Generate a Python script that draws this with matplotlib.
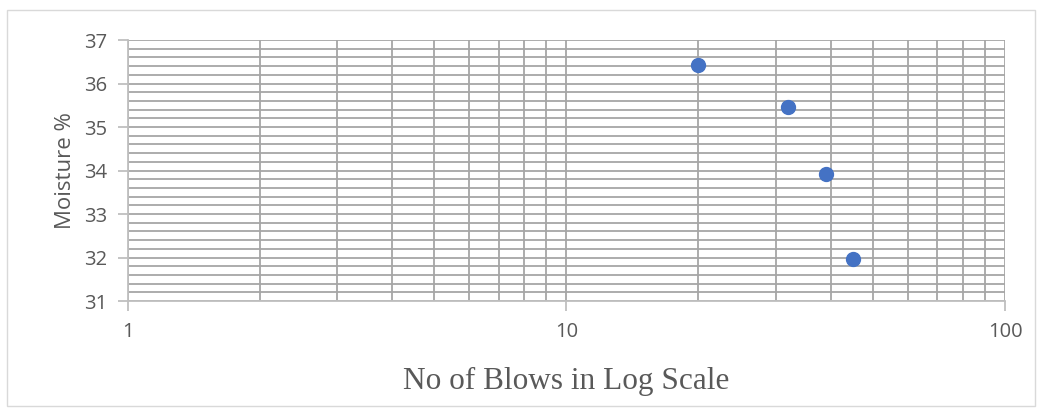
import matplotlib
matplotlib.use("Agg")
from matplotlib import pyplot as plt
from matplotlib.patches import Rectangle
from matplotlib.ticker import LogLocator, MultipleLocator, FixedLocator, NullFormatter

blows = [20, 32, 39, 45]
moisture = [36.42, 35.45, 33.92, 31.97]

x_ticks = [1, 10, 100]
x_tick_labels = ["1", "10", "100"]
y_ticks = [31, 32, 33, 34, 35, 36, 37]

grid_col = "#a6a6a6"
text_col = "#595959"

fig = plt.figure(figsize=(10.42, 4.16), dpi=100)
fig.patches.append(Rectangle((0.007, 0.024), 0.986, 0.952, transform=fig.transFigure,
                             fill=False, edgecolor="#d9d9d9", linewidth=1))
ax = fig.add_axes([0.1228, 0.2764, 0.8417, 0.6274])

ax.set_xscale("log")
ax.set_xlim(1, 100)
ax.set_ylim(31, 37)

ax.xaxis.set_major_locator(FixedLocator(x_ticks))
ax.set_xticklabels(x_tick_labels)
ax.xaxis.set_minor_locator(LogLocator(base=10, subs=range(2, 10)))
ax.xaxis.set_minor_formatter(NullFormatter())
ax.yaxis.set_major_locator(FixedLocator(y_ticks))
ax.yaxis.set_minor_locator(MultipleLocator(0.2))

ax.grid(which="both", color=grid_col, linewidth=1.3)
ax.set_axisbelow(True)

for side in ["top", "right"]:
    ax.spines[side].set_visible(False)
for side in ["left", "bottom"]:
    ax.spines[side].set_color("#bfbfbf")
    ax.spines[side].set_linewidth(1.3)

ax.tick_params(which="major", axis="both", length=7, width=1.3, color="#bfbfbf",
               labelcolor=text_col, labelsize=14.5)
ax.tick_params(axis="x", pad=8)
ax.tick_params(axis="y", pad=8)
ax.tick_params(which="minor", length=0)
for lab in ax.get_xticklabels() + ax.get_yticklabels():
    lab.set_family("Open Sans")

ax.plot(blows, moisture, linestyle="none", marker="o", markersize=10,
        color="#4472c4", zorder=3)

ax.set_ylabel("Moisture %", fontsize=16, color=text_col, family="Open Sans", labelpad=6)
ax.set_xlabel("No of Blows in Log Scale", fontsize=22.5, color=text_col,
              family="Liberation Serif", labelpad=18)

plt.savefig("out.png", dpi=100)
